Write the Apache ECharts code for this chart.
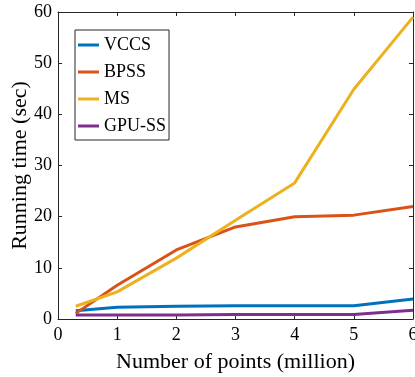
<!DOCTYPE html>
<html><head><meta charset="utf-8">
<script src="https://cdn.jsdelivr.net/npm/echarts@6/dist/echarts.min.js"></script>
<style>html,body{margin:0;padding:0;background:#fff}#c{width:415px;height:377px}</style>
</head><body><div id="c"></div>
<script>
const xPoints = [0.3, 1, 2, 3, 4, 5, 6];
const seriesNames = ['VCCS', 'BPSS', 'MS', 'GPU-SS'];
const vccs = [1.6, 2.3, 2.5, 2.6, 2.6, 2.6, 3.9];
const bpss = [1.1, 6.6, 13.5, 18.0, 20.0, 20.3, 22.0];
const ms = [2.5, 5.3, 11.9, 19.3, 26.6, 44.9, 59.0];
const gpuss = [0.8, 0.8, 0.8, 0.9, 0.9, 0.9, 1.7];
const colors = ['#0072BD', '#D95319', '#EDB120', '#7E2F8E'];
const xTicks = [0, 1, 2, 3, 4, 5, 6];
const yTicks = [0, 10, 20, 30, 40, 50, 60];

const font = 'Liberation Serif';
const axisColor = '#262626';
const allData = [vccs, bpss, ms, gpuss];
const chart = echarts.init(document.getElementById('c'));
const baseAxis = {
  type: 'value',
  axisLine: { show: true, onZero: false, lineStyle: { color: axisColor, width: 1 } },
  axisTick: { show: true, inside: true, length: 4, lineStyle: { color: axisColor } },
  splitLine: { show: false }
};
chart.setOption({
  animation: false,
  color: colors,
  grid: { left: 58, top: 12, right: 2, bottom: 58, containLabel: false, outerBoundsMode: 'none' },
  legend: {
    orient: 'vertical', left: 75, top: 30,
    data: seriesNames,
    icon: 'rect', itemWidth: 21, itemHeight: 3, itemGap: 9,
    padding: [6, 3, 5, 3],
    borderColor: axisColor, borderWidth: 1, backgroundColor: '#fff',
    textStyle: { fontFamily: font, fontSize: 18, color: '#000', lineHeight: 18 }
  },
  xAxis: [
    Object.assign({}, baseAxis, {
      min: 0, max: 6, interval: 1, position: 'bottom',
      name: 'Number of points (million)', nameLocation: 'middle', nameGap: 32, nameMoveOverlap: false,
      nameTextStyle: { fontFamily: font, fontSize: 22, color: '#000' },
      axisLabel: { fontFamily: font, fontSize: 18, color: '#000', margin: 7,
        formatter: v => xTicks.includes(v) ? String(v) : '' }
    }),
    Object.assign({}, baseAxis, { min: 0, max: 6, interval: 1, position: 'top', axisLabel: { show: false } })
  ],
  yAxis: [
    Object.assign({}, baseAxis, {
      min: 0, max: 60, interval: 10, position: 'left',
      name: 'Running time (sec)', nameLocation: 'middle', nameGap: 27, nameRotate: 90, nameMoveOverlap: false,
      nameTextStyle: { fontFamily: font, fontSize: 22, color: '#000' },
      axisLabel: { fontFamily: font, fontSize: 18, color: '#000', margin: 6,
        formatter: v => yTicks.includes(v) ? String(v) : '' }
    }),
    Object.assign({}, baseAxis, { min: 0, max: 60, interval: 10, position: 'right', axisLabel: { show: false } })
  ],
  series: seriesNames.map((n, i) => ({
    name: n, type: 'line', xAxisIndex: 0, yAxisIndex: 0,
    data: xPoints.map((x, j) => [x, allData[i][j]]),
    symbol: 'none', lineStyle: { width: 3, color: colors[i] }, itemStyle: { color: colors[i] },
    clip: false
  }))
});
</script></body></html>
